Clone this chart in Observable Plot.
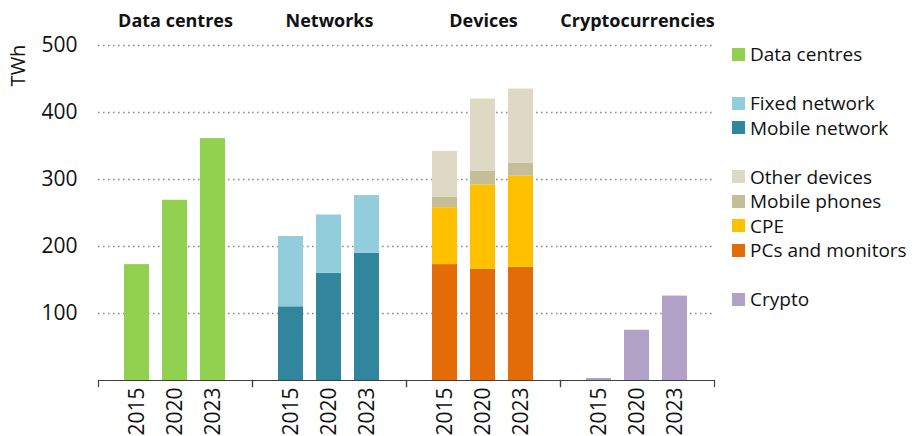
<!DOCTYPE html>
<html>
<head>
<meta charset="utf-8">
<script src="https://cdn.jsdelivr.net/npm/d3@7"></script>
<script src="https://cdn.jsdelivr.net/npm/@observablehq/plot@0.6"></script>
<style>
  html, body { margin: 0; padding: 0; background: #fff; }
  #wrap { position: relative; width: 914px; height: 436px; font-family: "Open Sans", sans-serif; }
  #legend { position: absolute; left: 732px; top: 42px; font-size: 19px; color: #111; }
  .row { display: flex; align-items: center; height: 24.5px; white-space: nowrap; }
  .sw { width: 13px; height: 13px; margin-right: 5px; flex: none; }
</style>
</head>
<body>
<div id="wrap"><div id="legend"></div></div>
<script>
const groups = ["Data centres", "Networks", "Devices", "Cryptocurrencies"];
const years = ["2015", "2020", "2023"];
const yTicks = [100, 200, 300, 400, 500];

const dataCentres = [173, 269, 361];
const mobileNetwork = [110, 160, 190];
const fixedNetwork = [105, 87, 86];
const pcsMonitors = [173, 166, 169];
const cpe = [85, 126, 136];
const mobilePhones = [16, 20, 19];
const otherDevices = [68, 108, 111];
const crypto = [3, 75, 126];

const seriesNames = ["Data centres", "Fixed network", "Mobile network", "Other devices", "Mobile phones", "CPE", "PCs and monitors", "Crypto"];
const seriesColors = ["#92D050", "#92CDDC", "#31859C", "#DDD9C4", "#C4BD97", "#FFC000", "#E36C09", "#B2A1C7"];
const legendRows = [["Data centres"], [], ["Fixed network", "Mobile network"], [], ["Other devices", "Mobile phones", "CPE", "PCs and monitors"], [], ["Crypto"]];

// stacking order (bottom to top) within each group
const stackSpec = [
  ["Data centres", "Data centres", dataCentres],
  ["Networks", "Mobile network", mobileNetwork],
  ["Networks", "Fixed network", fixedNetwork],
  ["Devices", "PCs and monitors", pcsMonitors],
  ["Devices", "CPE", cpe],
  ["Devices", "Mobile phones", mobilePhones],
  ["Devices", "Other devices", otherDevices],
  ["Cryptocurrencies", "Crypto", crypto]
];
const rows = [];
for (const [group, series, vals] of stackSpec) {
  years.forEach((year, i) => rows.push({group, series, year, value: vals[i]}));
}

const color = d3.scaleOrdinal(seriesNames, seriesColors);

const chart = Plot.plot({
  width: 725,
  height: 436,
  marginTop: 45,
  marginBottom: 56,
  marginLeft: 97,
  marginRight: 10,
  style: {fontFamily: "Open Sans, sans-serif", color: "#111", background: "#fff"},
  fx: {domain: groups, padding: 0, label: null},
  x: {domain: years, paddingInner: 0.33, paddingOuter: 0.67, label: null},
  y: {domain: [0, 500], label: null},
  color: {domain: seriesNames, range: seriesColors},
  marks: [
    Plot.gridY(yTicks, {stroke: "#8c8c8c", strokeOpacity: 1, strokeWidth: 1.6, strokeDasharray: "1.6,3.4"}),
    Plot.barY(rows, {fx: "group", x: "year", y: "value", fill: "series", inset: 0}),
    Plot.ruleY([0], {stroke: "#404040", strokeWidth: 1.2}),
    Plot.frame({anchor: "left", insetTop: 335, insetBottom: -6, stroke: "#404040", strokeWidth: 1.2}),
    Plot.frame({anchor: "right", insetTop: 335, insetBottom: -6, stroke: "#404040", strokeWidth: 1.2}),
    Plot.axisY(yTicks, {tickSize: 0, tickPadding: 21, fontSize: 21, label: null}),
    Plot.axisX({tickSize: 0, tickPadding: 7, tickRotate: -90, fontSize: 21, label: null}),
    Plot.axisFx({anchor: "top", tickSize: 0, tickPadding: 19, fontSize: 18, fontWeight: "bold", label: null}),
    Plot.text(["TWh"], {fx: () => "Data centres", frameAnchor: "top-left", dx: -80, dy: 20, rotate: -90, textAnchor: "middle", lineAnchor: "middle", fontSize: 20, fill: "#111"})
  ]
});
document.getElementById("wrap").prepend(chart);

const legend = document.getElementById("legend");
for (const grp of legendRows) {
  if (grp.length === 0) {
    const r = document.createElement("div"); r.className = "row"; legend.appendChild(r); continue;
  }
  for (const name of grp) {
    const r = document.createElement("div"); r.className = "row";
    const s = document.createElement("span"); s.className = "sw"; s.style.background = color(name);
    const t = document.createElement("span"); t.textContent = name;
    r.appendChild(s); r.appendChild(t); legend.appendChild(r);
  }
}
</script>
</body>
</html>
